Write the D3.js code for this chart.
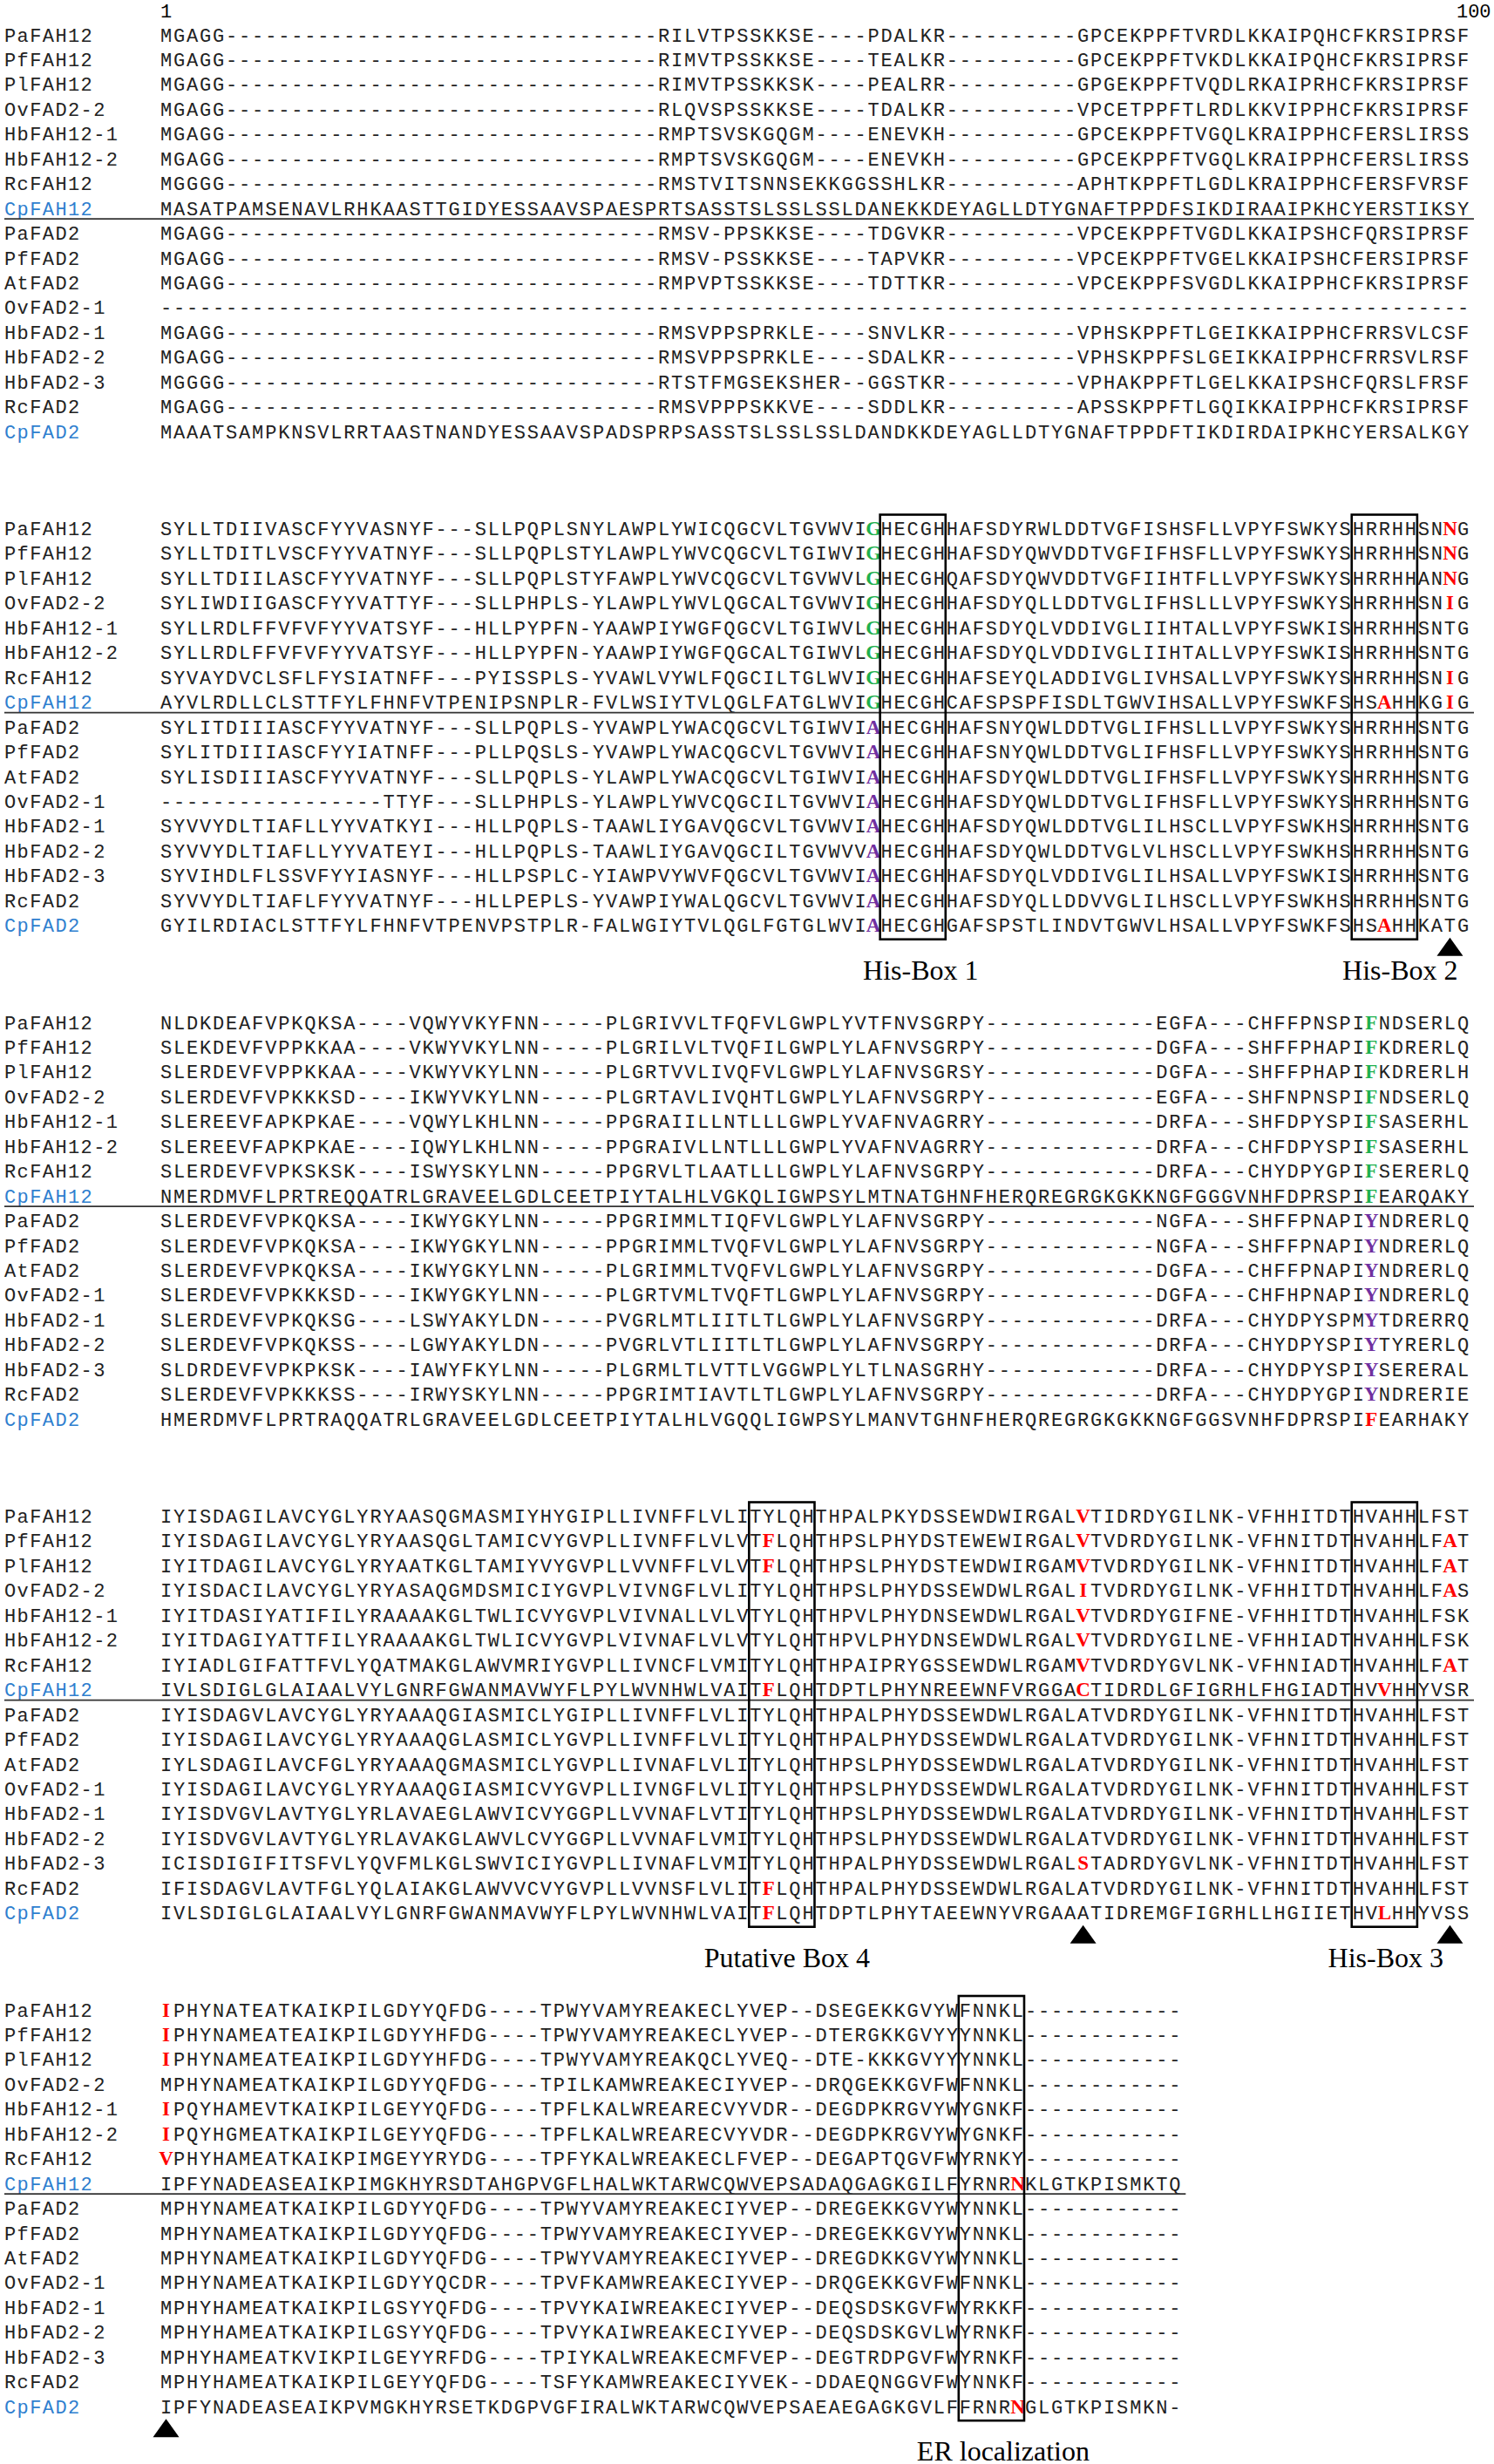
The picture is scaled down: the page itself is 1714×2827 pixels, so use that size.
<!DOCTYPE html>
<html>
<head>
<meta charset="utf-8">
<script src="https://cdn.jsdelivr.net/npm/d3@7/dist/d3.min.js"></script>
<style>
  body { margin: 0; background: #fff; }
  svg { display: block; }
</style>
</head>
<body>
<div id="chart"></div>
<script>
// sequence names, top to bottom (the same in every block)
var names = ["PaFAH12", "PfFAH12", "PlFAH12", "OvFAD2-2", "HbFAH12-1", "HbFAH12-2", "RcFAH12", "CpFAH12",
    "PaFAD2", "PfFAD2", "AtFAD2", "OvFAD2-1", "HbFAD2-1", "HbFAD2-2", "HbFAD2-3", "RcFAD2", "CpFAD2"];
var blueNames = ["CpFAH12", "CpFAD2"];

// aligned residues, block 1 (cols 1-100)
var block1 = [
    "MGAGG---------------------------------RILVTPSSKKSE----PDALKR----------GPCEKPPFTVRDLKKAIPQHCFKRSIPRSF",
    "MGAGG---------------------------------RIMVTPSSKKSE----TEALKR----------GPCEKPPFTVKDLKKAIPQHCFKRSIPRSF",
    "MGAGG---------------------------------RIMVTPSSKKSK----PEALRR----------GPGEKPPFTVQDLRKAIPRHCFKRSIPRSF",
    "MGAGG---------------------------------RLQVSPSSKKSE----TDALKR----------VPCETPPFTLRDLKKVIPPHCFKRSIPRSF",
    "MGAGG---------------------------------RMPTSVSKGQGM----ENEVKH----------GPCEKPPFTVGQLKRAIPPHCFERSLIRSS",
    "MGAGG---------------------------------RMPTSVSKGQGM----ENEVKH----------GPCEKPPFTVGQLKRAIPPHCFERSLIRSS",
    "MGGGG---------------------------------RMSTVITSNNSEKKGGSSHLKR----------APHTKPPFTLGDLKRAIPPHCFERSFVRSF",
    "MASATPAMSENAVLRHKAASTTGIDYESSAAVSPAESPRTSASSTSLSSLSSLDANEKKDEYAGLLDTYGNAFTPPDFSIKDIRAAIPKHCYERSTIKSY",
    "MGAGG---------------------------------RMSV-PPSKKSE----TDGVKR----------VPCEKPPFTVGDLKKAIPSHCFQRSIPRSF",
    "MGAGG---------------------------------RMSV-PSSKKSE----TAPVKR----------VPCEKPPFTVGELKKAIPSHCFERSIPRSF",
    "MGAGG---------------------------------RMPVPTSSKKSE----TDTTKR----------VPCEKPPFSVGDLKKAIPPHCFKRSIPRSF",
    "----------------------------------------------------------------------------------------------------",
    "MGAGG---------------------------------RMSVPPSPRKLE----SNVLKR----------VPHSKPPFTLGEIKKAIPPHCFRRSVLCSF",
    "MGAGG---------------------------------RMSVPPSPRKLE----SDALKR----------VPHSKPPFSLGEIKKAIPPHCFRRSVLRSF",
    "MGGGG---------------------------------RTSTFMGSEKSHER--GGSTKR----------VPHAKPPFTLGELKKAIPSHCFQRSLFRSF",
    "MGAGG---------------------------------RMSVPPPSKKVE----SDDLKR----------APSSKPPFTLGQIKKAIPPHCFKRSIPRSF",
    "MAAATSAMPKNSVLRRTAASTNANDYESSAAVSPADSPRPSASSTSLSSLSSLDANDKKDEYAGLLDTYGNAFTPPDFTIKDIRDAIPKHCYERSALKGY"
];
var block2 = [
    "SYLLTDIIVASCFYYVASNYF---SLLPQPLSNYLAWPLYWICQGCVLTGVWVIGHECGHHAFSDYRWLDDTVGFISHSFLLVPYFSWKYSHRRHHSNNG",
    "SYLLTDITLVSCFYYVATNYF---SLLPQPLSTYLAWPLYWVCQGCVLTGIWVIGHECGHHAFSDYQWVDDTVGFIFHSFLLVPYFSWKYSHRRHHSNNG",
    "SYLLTDIILASCFYYVATNYF---SLLPQPLSTYFAWPLYWVCQGCVLTGVWVLGHECGHQAFSDYQWVDDTVGFIIHTFLLVPYFSWKYSHRRHHANNG",
    "SYLIWDIIGASCFYYVATTYF---SLLPHPLS-YLAWPLYWVLQGCALTGVWVIGHECGHHAFSDYQLLDDTVGLIFHSLLLVPYFSWKYSHRRHHSNIG",
    "SYLLRDLFFVFVFYYVATSYF---HLLPYPFN-YAAWPIYWGFQGCVLTGIWVLGHECGHHAFSDYQLVDDIVGLIIHTALLVPYFSWKISHRRHHSNTG",
    "SYLLRDLFFVFVFYYVATSYF---HLLPYPFN-YAAWPIYWGFQGCALTGIWVLGHECGHHAFSDYQLVDDIVGLIIHTALLVPYFSWKISHRRHHSNTG",
    "SYVAYDVCLSFLFYSIATNFF---PYISSPLS-YVAWLVYWLFQGCILTGLWVIGHECGHHAFSEYQLADDIVGLIVHSALLVPYFSWKYSHRRHHSNIG",
    "AYVLRDLLCLSTTFYLFHNFVTPENIPSNPLR-FVLWSIYTVLQGLFATGLWVIGHECGHCAFSPSPFISDLTGWVIHSALLVPYFSWKFSHSAHHKGIG",
    "SYLITDIIIASCFYYVATNYF---SLLPQPLS-YVAWPLYWACQGCVLTGIWVIAHECGHHAFSNYQWLDDTVGLIFHSLLLVPYFSWKYSHRRHHSNTG",
    "SYLITDIIIASCFYYIATNFF---PLLPQSLS-YVAWPLYWACQGCVLTGVWVIAHECGHHAFSNYQWLDDTVGLIFHSFLLVPYFSWKYSHRRHHSNTG",
    "SYLISDIIIASCFYYVATNYF---SLLPQPLS-YLAWPLYWACQGCVLTGIWVIAHECGHHAFSDYQWLDDTVGLIFHSFLLVPYFSWKYSHRRHHSNTG",
    "-----------------TTYF---SLLPHPLS-YLAWPLYWVCQGCILTGVWVIAHECGHHAFSDYQWLDDTVGLIFHSFLLVPYFSWKYSHRRHHSNTG",
    "SYVVYDLTIAFLLYYVATKYI---HLLPQPLS-TAAWLIYGAVQGCVLTGVWVIAHECGHHAFSDYQWLDDTVGLILHSCLLVPYFSWKHSHRRHHSNTG",
    "SYVVYDLTIAFLLYYVATEYI---HLLPQPLS-TAAWLIYGAVQGCILTGVWVVAHECGHHAFSDYQWLDDTVGLVLHSCLLVPYFSWKHSHRRHHSNTG",
    "SYVIHDLFLSSVFYYIASNYF---HLLPSPLC-YIAWPVYWVFQGCVLTGVWVIAHECGHHAFSDYQLVDDIVGLILHSALLVPYFSWKISHRRHHSNTG",
    "SYVVYDLTIAFLFYYVATNYF---HLLPEPLS-YVAWPIYWALQGCVLTGVWVIAHECGHHAFSDYQLLDDVVGLILHSCLLVPYFSWKHSHRRHHSNTG",
    "GYILRDIACLSTTFYLFHNFVTPENVPSTPLR-FALWGIYTVLQGLFGTGLWVIAHECGHGAFSPSTLINDVTGWVLHSALLVPYFSWKFSHSAHHKATG"
];
var block3 = [
    "NLDKDEAFVPKQKSA----VQWYVKYFNN-----PLGRIVVLTFQFVLGWPLYVTFNVSGRPY-------------EGFA---CHFFPNSPIFNDSERLQ",
    "SLEKDEVFVPPKKAA----VKWYVKYLNN-----PLGRILVLTVQFILGWPLYLAFNVSGRPY-------------DGFA---SHFFPHAPIFKDRERLQ",
    "SLERDEVFVPPKKAA----VKWYVKYLNN-----PLGRTVVLIVQFVLGWPLYLAFNVSGRSY-------------DGFA---SHFFPHAPIFKDRERLH",
    "SLERDEVFVPKKKSD----IKWYVKYLNN-----PLGRTAVLIVQHTLGWPLYLAFNVSGRPY-------------EGFA---SHFNPNSPIFNDSERLQ",
    "SLEREEVFAPKPKAE----VQWYLKHLNN-----PPGRAIILLNTLLLGWPLYVAFNVAGRRY-------------DRFA---SHFDPYSPIFSASERHL",
    "SLEREEVFAPKPKAE----IQWYLKHLNN-----PPGRAIVLLNTLLLGWPLYVAFNVAGRRY-------------DRFA---CHFDPYSPIFSASERHL",
    "SLERDEVFVPKSKSK----ISWYSKYLNN-----PPGRVLTLAATLLLGWPLYLAFNVSGRPY-------------DRFA---CHYDPYGPIFSERERLQ",
    "NMERDMVFLPRTREQQATRLGRAVEELGDLCEETPIYTALHLVGKQLIGWPSYLMTNATGHNFHERQREGRGKGKKNGFGGGVNHFDPRSPIFEARQAKY",
    "SLERDEVFVPKQKSA----IKWYGKYLNN-----PPGRIMMLTIQFVLGWPLYLAFNVSGRPY-------------NGFA---SHFFPNAPIYNDRERLQ",
    "SLERDEVFVPKQKSA----IKWYGKYLNN-----PPGRIMMLTVQFVLGWPLYLAFNVSGRPY-------------NGFA---SHFFPNAPIYNDRERLQ",
    "SLERDEVFVPKQKSA----IKWYGKYLNN-----PLGRIMMLTVQFVLGWPLYLAFNVSGRPY-------------DGFA---CHFFPNAPIYNDRERLQ",
    "SLERDEVFVPKKKSD----IKWYGKYLNN-----PLGRTVMLTVQFTLGWPLYLAFNVSGRPY-------------DGFA---CHFHPNAPIYNDRERLQ",
    "SLERDEVFVPKQKSG----LSWYAKYLDN-----PVGRLMTLIITLTLGWPLYLAFNVSGRPY-------------DRFA---CHYDPYSPMYTDRERRQ",
    "SLERDEVFVPKQKSS----LGWYAKYLDN-----PVGRLVTLIITLTLGWPLYLAFNVSGRPY-------------DRFA---CHYDPYSPIYTYRERLQ",
    "SLDRDEVFVPKPKSK----IAWYFKYLNN-----PLGRMLTLVTTLVGGWPLYLTLNASGRHY-------------DRFA---CHYDPYSPIYSERERAL",
    "SLERDEVFVPKKKSS----IRWYSKYLNN-----PPGRIMTIAVTLTLGWPLYLAFNVSGRPY-------------DRFA---CHYDPYGPIYNDRERIE",
    "HMERDMVFLPRTRAQQATRLGRAVEELGDLCEETPIYTALHLVGQQLIGWPSYLMANVTGHNFHERQREGRGKGKKNGFGGSVNHFDPRSPIFEARHAKY"
];
var block4 = [
    "IYISDAGILAVCYGLYRYAASQGMASMIYHYGIPLLIVNFFLVLITYLQHTHPALPKYDSSEWDWIRGALVTIDRDYGILNK-VFHHITDTHVAHHLFST",
    "IYISDAGILAVCYGLYRYAASQGLTAMICVYGVPLLIVNFFLVLVTFLQHTHPSLPHYDSTEWEWIRGALVTVDRDYGILNK-VFHNITDTHVAHHLFAT",
    "IYITDAGILAVCYGLYRYAATKGLTAMIYVYGVPLLVVNFFLVLVTFLQHTHPSLPHYDSTEWDWIRGAMVTVDRDYGILNK-VFHNITDTHVAHHLFAT",
    "IYISDACILAVCYGLYRYASAQGMDSMICIYGVPLVIVNGFLVLITYLQHTHPSLPHYDSSEWDWLRGALITVDRDYGILNK-VFHHITDTHVAHHLFAS",
    "IYITDASIYATIFILYRAAAAKGLTWLICVYGVPLVIVNALLVLVTYLQHTHPVLPHYDNSEWDWLRGALVTVDRDYGIFNE-VFHHITDTHVAHHLFSK",
    "IYITDAGIYATTFILYRAAAAKGLTWLICVYGVPLVIVNAFLVLVTYLQHTHPVLPHYDNSEWDWLRGALVTVDRDYGILNE-VFHHIADTHVAHHLFSK",
    "IYIADLGIFATTFVLYQATMAKGLAWVMRIYGVPLLIVNCFLVMITYLQHTHPAIPRYGSSEWDWLRGAMVTVDRDYGVLNK-VFHNIADTHVAHHLFAT",
    "IVLSDIGLGLAIAALVYLGNRFGWANMAVWYFLPYLWVNHWLVAITFLQHTDPTLPHYNREEWNFVRGGACTIDRDLGFIGRHLFHGIADTHVVHHYVSR",
    "IYISDAGVLAVCYGLYRYAAAQGIASMICLYGIPLLIVNFFLVLITYLQHTHPALPHYDSSEWDWLRGALATVDRDYGILNK-VFHNITDTHVAHHLFST",
    "IYISDAGILAVCYGLYRYAAAQGLASMICLYGVPLLIVNFFLVLITYLQHTHPALPHYDSSEWDWLRGALATVDRDYGILNK-VFHNITDTHVAHHLFST",
    "IYLSDAGILAVCFGLYRYAAAQGMASMICLYGVPLLIVNAFLVLITYLQHTHPSLPHYDSSEWDWLRGALATVDRDYGILNK-VFHNITDTHVAHHLFST",
    "IYISDAGILAVCYGLYRYAAAQGIASMICVYGVPLLIVNGFLVLITYLQHTHPSLPHYDSSEWDWLRGALATVDRDYGILNK-VFHNITDTHVAHHLFST",
    "IYISDVGVLAVTYGLYRLAVAEGLAWVICVYGGPLLVVNAFLVTITYLQHTHPSLPHYDSSEWDWLRGALATVDRDYGILNK-VFHNITDTHVAHHLFST",
    "IYISDVGVLAVTYGLYRLAVAKGLAWVLCVYGGPLLVVNAFLVMITYLQHTHPSLPHYDSSEWDWLRGALATVDRDYGILNK-VFHNITDTHVAHHLFST",
    "ICISDIGIFITSFVLYQVFMLKGLSWVICIYGVPLLIVNAFLVMITYLQHTHPALPHYDSSEWDWLRGALSTADRDYGVLNK-VFHNITDTHVAHHLFST",
    "IFISDAGVLAVTFGLYQLAIAKGLAWVVCVYGVPLLVVNSFLVLITFLQHTHPALPHYDSSEWDWLRGALATVDRDYGILNK-VFHNITDTHVAHHLFST",
    "IVLSDIGLGLAIAALVYLGNRFGWANMAVWYFLPYLWVNHWLVAITFLQHTDPTLPHYTAEEWNYVRGAAATIDREMGFIGRHLLHGIIETHVLHHYVSS"
];
var block5 = [
    "IPHYNATEATKAIKPILGDYYQFDG----TPWYVAMYREAKECLYVEP--DSEGEKKGVYWFNNKL------------",
    "IPHYNAMEATEAIKPILGDYYHFDG----TPWYVAMYREAKECLYVEP--DTERGKKGVYYYNNKL------------",
    "IPHYNAMEATEAIKPILGDYYHFDG----TPWYVAMYREAKQCLYVEQ--DTE-KKKGVYYYNNKL------------",
    "MPHYNAMEATKAIKPILGDYYQFDG----TPILKAMWREAKECIYVEP--DRQGEKKGVFWFNNKL------------",
    "IPQYHAMEVTKAIKPILGEYYQFDG----TPFLKALWREARECVYVDR--DEGDPKRGVYWYGNKF------------",
    "IPQYHGMEATKAIKPILGEYYQFDG----TPFLKALWREARECVYVDR--DEGDPKRGVYWYGNKF------------",
    "VPHYHAMEATKAIKPIMGEYYRYDG----TPFYKALWREAKECLFVEP--DEGAPTQGVFWYRNKY------------",
    "IPFYNADEASEAIKPIMGKHYRSDTAHGPVGFLHALWKTARWCQWVEPSADAQGAGKGILFYRNRNKLGTKPISMKTQ",
    "MPHYNAMEATKAIKPILGDYYQFDG----TPWYVAMYREAKECIYVEP--DREGEKKGVYWYNNKL------------",
    "MPHYNAMEATKAIKPILGDYYQFDG----TPWYVAMYREAKECIYVEP--DREGEKKGVYWYNNKL------------",
    "MPHYNAMEATKAIKPILGDYYQFDG----TPWYVAMYREAKECIYVEP--DREGDKKGVYWYNNKL------------",
    "MPHYNAMEATKAIKPILGDYYQCDR----TPVFKAMWREAKECIYVEP--DRQGEKKGVFWFNNKL------------",
    "MPHYHAMEATKAIKPILGSYYQFDG----TPVYKAIWREAKECIYVEP--DEQSDSKGVFWYRKKF------------",
    "MPHYHAMEATKAIKPILGSYYQFDG----TPVYKAIWREAKECIYVEP--DEQSDSKGVLWYRNKF------------",
    "MPHYHAMEATKVIKPILGEYYRFDG----TPIYKALWREAKECMFVEP--DEGTRDPGVFWYRNKF------------",
    "MPHYHAMEATKAIKPILGEYYQFDG----TSFYKAMWREAKECIYVEK--DDAEQNGGVFWYNNKF------------",
    "IPFYNADEASEAIKPVMGKHYRSETKDGPVGFIRALWKTARWCQWVEPSAEAEGAGKGVLFFRNRNGLGTKPISMKN-"
];
var blocks = [block1, block2, block3, block4, block5];
var blockLen = [100, 100, 100, 100, 78];

// highlighted residues: [block, column (1-based), rows, kind]
var marks = [
    [1, 55, [0, 1, 2, 3, 4, 5, 6, 7], "green"],
    [1, 55, [8, 9, 10, 11, 12, 13, 14, 15, 16], "purple"],
    [1, 94, [7, 16], "red"],
    [1, 99, [0, 1, 2, 3, 6, 7], "red"],
    [2, 93, [0, 1, 2, 3, 4, 5, 6, 7], "green"],
    [2, 93, [8, 9, 10, 11, 12, 13, 14, 15], "purple"],
    [2, 93, [16], "red"],
    [3, 47, [1, 2, 7, 15, 16], "red"],
    [3, 71, [0, 1, 2, 3, 4, 5, 6, 7, 14], "red"],
    [3, 94, [7, 16], "red"],
    [3, 99, [1, 2, 3, 6], "red"],
    [4, 1, [0, 1, 2, 4, 5, 6], "red"],
    [4, 66, [7, 16], "red"]
];
// motif boxes: [block, first column, last column]
var boxes = [[1, 56, 60], [1, 92, 96], [3, 46, 50], [3, 92, 96], [4, 62, 66]];
// motif labels: [block, text, column of label centre]
var labels = [
    [1, "His-Box 1", 58.1], [1, "His-Box 2", 94.7],
    [3, "Putative Box 4", 47.9], [3, "His-Box 3", 93.6],
    [4, "ER localization", 64.4]
];
// arrowheads: [block, column]
var arrows = [[1, 99], [3, 71], [3, 99], [4, 1]];

var W = 1714, H = 2827;
var markColor = {green: "#1fb04f", purple: "#7030a0", red: "#ff0000"};

var x = d3.scaleLinear().domain([0, 100]).range([183, 1686]);   // column edges
var blockY = d3.scaleLinear().domain([0, 1]).range([40, 606.5]); // first row centre of each block
var rowY = d3.scaleLinear().domain([0, 1]).range([0, 28.45]);    // offset of each row in a block
function colMid(c) { return (x(c - 1) + x(c)) / 2; }
function cy(b, r) { return blockY(b) + rowY(r); }

var svg = d3.select("#chart").append("svg")
    .attr("width", W)
    .attr("height", H)
    .style("background", "#fff");

// column ruler
svg.append("text").attr("x", colMid(1)).attr("y", 20)
    .attr("text-anchor", "middle")
    .style("font", "22px 'Liberation Mono', monospace").text("1");
svg.append("text").attr("x", x(99)).attr("y", 20)
    .style("font", "22px 'Liberation Mono', monospace").text("100");

// quick lookup for coloured residues
var markKey = {};
marks.forEach(function (m) {
    m[2].forEach(function (r) { markKey[m[0] + "_" + r + "_" + m[1]] = m[3]; });
});

blocks.forEach(function (rows, b) {
    var g = svg.append("g").attr("class", "block" + (b + 1));

    // names
    g.selectAll(".name").data(names).enter().append("text")
        .attr("class", "name")
        .attr("x", 5)
        .attr("y", function (d, i) { return cy(b, i) + 7.5; })
        .style("font", "22px 'Liberation Mono', monospace")
        .style("letter-spacing", "1.4px")
        .style("fill", function (d) { return blueNames.indexOf(d) >= 0 ? "#2f7fcf" : "#222"; })
        .text(function (d) { return d; });

    // residues, one text per column
    var cells = [];
    rows.forEach(function (s, r) {
        for (var c = 0; c < s.length; c++) {
            cells.push({r: r, c: c + 1, ch: s[c], mark: markKey[b + "_" + r + "_" + (c + 1)]});
        }
        if (s.length !== blockLen[b]) {
            svg.append("text").attr("x", 1300).attr("y", cy(b, r) + 7)
                .style("fill", "magenta").style("font", "bold 20px sans-serif")
                .text("LEN " + s.length);
        }
    });
    g.selectAll(".res").data(cells).enter().append("text")
        .attr("class", "res")
        .attr("x", function (d) { return colMid(d.c); })
        .attr("y", function (d) { return cy(b, d.r) + 7.5; })
        .attr("text-anchor", "middle")
        .style("font", function (d) {
            return d.mark ? "bold 23px 'Liberation Serif', serif" : "22px 'Liberation Mono', monospace";
        })
        .style("fill", function (d) { return d.mark ? markColor[d.mark] : "#222"; })
        .text(function (d) { return d.ch; });

    // separator between the FAH12 and FAD2 groups
    g.append("line")
        .attr("x1", 5).attr("x2", x(blockLen[b]) + 5)
        .attr("y1", cy(b, 7) + 12).attr("y2", cy(b, 7) + 12)
        .style("stroke", "#333").style("stroke-width", 1.6);
});

// boxes round the motifs
svg.selectAll(".box").data(boxes).enter().append("rect")
    .attr("class", "box")
    .attr("x", function (d) { return x(d[1] - 1); })
    .attr("y", function (d) { return cy(d[0], 0) - 16; })
    .attr("width", function (d) { return x(d[2]) - x(d[1] - 1); })
    .attr("height", function (d) { return rowY(16) + 32; })
    .style("fill", "none").style("stroke", "#000").style("stroke-width", 2.6);

// arrowheads under the alignment
svg.selectAll(".arrow").data(arrows).enter().append("path")
    .attr("class", "arrow")
    .attr("d", function (d) {
        var cx = colMid(d[1]), top = cy(d[0], 16) + 14;
        return "M" + cx + "," + top + "L" + (cx + 15) + "," + (top + 21) + "L" + (cx - 15) + "," + (top + 21) + "Z";
    })
    .style("fill", "#000");

// motif labels
svg.selectAll(".label").data(labels).enter().append("text")
    .attr("class", "label")
    .attr("x", function (d) { return x(d[2]); })
    .attr("y", function (d) { return cy(d[0], 16) + 62; })
    .attr("text-anchor", "middle")
    .style("font", "32px 'Liberation Serif', serif")
    .style("fill", "#000")
    .text(function (d) { return d[1]; });
</script>
</body>
</html>
